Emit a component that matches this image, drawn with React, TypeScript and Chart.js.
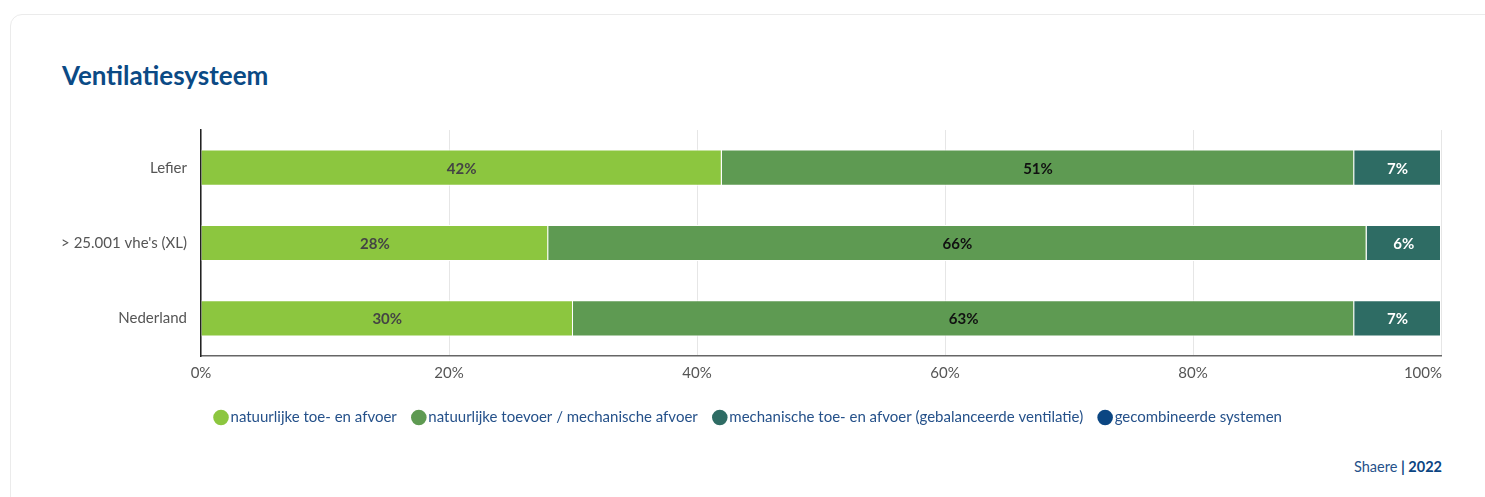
import React, { useEffect, useRef } from "react";
import { Chart, registerables } from "chart.js";

Chart.register(...registerables);

const categories = ["Lefier", "> 25.001 vhe's (XL)", "Nederland"];
const seriesNames = [
  "natuurlijke toe- en afvoer",
  "natuurlijke toevoer / mechanische afvoer",
  "mechanische toe- en afvoer (gebalanceerde ventilatie)",
  "gecombineerde systemen",
];
const natuurlijkeToeEnAfvoer = [42, 28, 30];
const natuurlijkeToevoerMechanischeAfvoer = [51, 66, 63];
const mechanischeToeEnAfvoer = [7, 6, 7];
const gecombineerdeSystemen = [0, 0, 0];
const seriesColors = ["#8cc63f", "#5e9a52", "#2e6c64", "#0b4682"];
const labelColors = ["#444444", "#111111", "#ffffff", "#ffffff"];
const xTickValues = [0, 20, 40, 60, 80, 100];
const X_MAX = 100;

const FONT = "Lato, 'Source Sans Pro', sans-serif";
const TICK_COLOR = "#555555";
const TICK_FONT_SIZE = 15;

const valueLabels = {
  id: "valueLabels",
  afterDatasetsDraw(chart: any) {
    const ctx = chart.ctx;
    ctx.save();
    ctx.font = `bold 15px ${FONT}`;
    ctx.textAlign = "center";
    ctx.textBaseline = "middle";
    chart.data.datasets.forEach((ds: any, i: number) => {
      const meta = chart.getDatasetMeta(i);
      if (meta.hidden) return;
      meta.data.forEach((el: any, j: number) => {
        const v = ds.data[j];
        if (!v) return;
        const p = el.getCenterPoint();
        ctx.fillStyle = labelColors[i];
        ctx.fillText(`${v}%`, p.x, p.y + 1);
      });
    });
    ctx.restore();
  },
};

// the last x tick label is right-aligned to the end of the axis
const lastTickLabel = {
  id: "lastTickLabel",
  afterDraw(chart: any) {
    const xs = chart.scales.x;
    const items = xs.getLabelItems();
    if (!items.length) return;
    const ref = items[0];
    const ctx = chart.ctx;
    ctx.save();
    ctx.font = `${TICK_FONT_SIZE}px ${FONT}`;
    ctx.fillStyle = TICK_COLOR;
    ctx.textAlign = "right";
    ctx.textBaseline = ref.options.textBaseline;
    const y = ref.options.translation[1] + (ref.textOffset || 0);
    ctx.fillText(`${X_MAX}%`, xs.getPixelForValue(X_MAX) + 1, y);
    ctx.restore();
  },
};

export default function App() {
  const ref = useRef<HTMLCanvasElement | null>(null);

  useEffect(() => {
    if (!ref.current) return;
    const seriesData = [
      natuurlijkeToeEnAfvoer,
      natuurlijkeToevoerMechanischeAfvoer,
      mechanischeToeEnAfvoer,
      gecombineerdeSystemen,
    ];
    const chart = new Chart(ref.current, {
      type: "bar",
      data: {
        labels: categories,
        datasets: seriesNames.map((name, i) => ({
          label: name,
          data: seriesData[i],
          backgroundColor: seriesColors[i],
          borderColor: "#ffffff",
          borderWidth: 1,
          barPercentage: 0.6,
          categoryPercentage: 0.8,
        })),
      },
      plugins: [valueLabels, lastTickLabel],
      options: {
        indexAxis: "y",
        animation: false,
        responsive: false,
        devicePixelRatio: 1,
        layout: { padding: { top: 15, right: 33, left: 16, bottom: 10 } },
        scales: {
          x: {
            stacked: true,
            min: 0,
            max: X_MAX,
            afterBuildTicks: (scale: any) => {
              scale.ticks = xTickValues.map((v) => ({ value: v }));
            },
            afterFit: (scale: any) => {
              scale.height = 34;
              scale.paddingLeft = 0;
              scale.paddingRight = 0;
            },
            grid: { color: "#e6e6e6", drawTicks: false },
            border: { color: "#666666", width: 1.5 },
            ticks: {
              padding: 8,
              color: TICK_COLOR,
              font: { family: FONT, size: TICK_FONT_SIZE },
              callback: (v: any) => (v === X_MAX ? "" : `${v}%`),
            },
          },
          y: {
            stacked: true,
            afterFit: (scale: any) => {
              scale.width = 141;
              scale.paddingTop = 0;
              scale.paddingBottom = 0;
            },
            grid: { display: false, drawTicks: false },
            border: { color: "#222222", width: 1.5 },
            ticks: {
              padding: 14,
              color: TICK_COLOR,
              font: { family: FONT, size: TICK_FONT_SIZE },
            },
          },
        },
        plugins: {
          title: { display: false },
          tooltip: { enabled: false },
          legend: {
            position: "bottom",
            labels: {
              usePointStyle: true,
              pointStyle: "circle",
              boxWidth: 4,
              boxHeight: 11,
              padding: 20,
              color: "#25518a",
              font: { family: FONT, size: 15 },
              generateLabels: (c: any) =>
                Chart.defaults.plugins.legend.labels
                  .generateLabels(c)
                  .map((l: any, i: number) => ({
                    ...l,
                    fillStyle: seriesColors[i],
                    strokeStyle: seriesColors[i],
                    lineWidth: 0,
                  })),
            },
          },
        },
      } as any,
    });
    return () => chart.destroy();
  }, []);

  return (
    <div
      style={{
        position: "fixed",
        left: 0,
        top: 0,
        width: 1485,
        height: 497,
        background: "#ffffff",
        overflow: "hidden",
        fontFamily: FONT,
      }}
    >
      <div
        style={{
          position: "absolute",
          left: 10,
          top: 14,
          width: 1490,
          height: 520,
          border: "1px solid #ebebeb",
          borderRadius: 12,
          boxSizing: "border-box",
        }}
      />
      <div
        style={{
          position: "absolute",
          left: 62,
          top: 57,
          fontSize: 26,
          fontWeight: 700,
          color: "#0b4a85",
          lineHeight: "36px",
        }}
      >
        Ventilatiesysteem
      </div>
      <canvas
        ref={ref}
        width={1430}
        height={330}
        style={{ position: "absolute", left: 44, top: 115, width: 1430, height: 330 }}
      />
      <div
        style={{
          position: "absolute",
          right: 1485 - 1442,
          top: 457,
          fontSize: 14.5,
          lineHeight: "20px",
          color: "#25518a",
          whiteSpace: "nowrap",
        }}
      >
        Shaere <span style={{ fontWeight: 700, color: "#0b4582" }}>| 2022</span>
      </div>
    </div>
  );
}
